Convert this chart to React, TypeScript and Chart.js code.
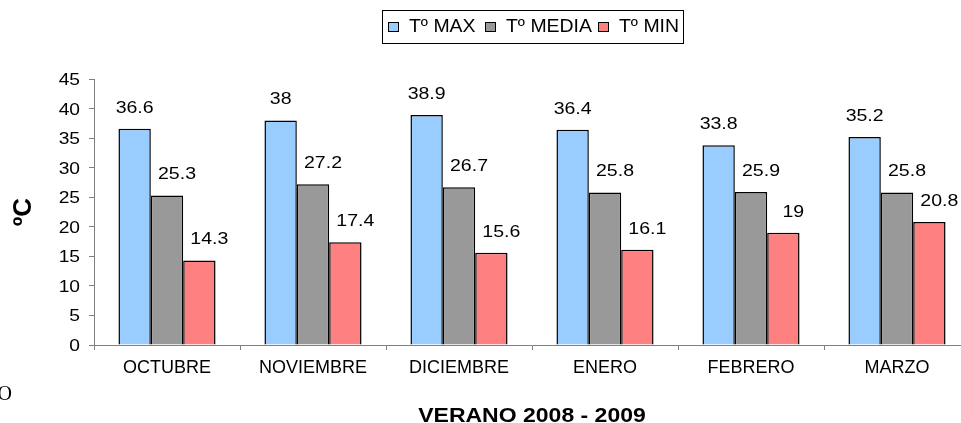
import React, { useEffect, useRef } from "react";
import { Chart, registerables } from "chart.js";

Chart.register(...registerables);

const categories = ["OCTUBRE", "NOVIEMBRE", "DICIEMBRE", "ENERO", "FEBRERO", "MARZO"];
const tMax = [36.6, 38, 38.9, 36.4, 33.8, 35.2];
const tMedia = [25.3, 27.2, 26.7, 25.8, 25.9, 25.8];
const tMin = [14.3, 17.4, 15.6, 16.1, 19, 20.8];
const seriesLabels = ["Tº MAX", "Tº MEDIA", "Tº MIN"];
const seriesColors = ["#99CCFF", "#999999", "#FF8080"];
const yMin = 0;
const yMax = 45;
const yStep = 5;
const xTitle = "VERANO 2008 - 2009";
const yTitle = "ºC";
const strayText = "O";

const SANS = '"Liberation Sans", Arial, sans-serif';

function stretchedText(ctx: any, text: string, x: number, y: number, sx: number, align: string, baseline: string) {
  ctx.save();
  ctx.translate(x, y);
  ctx.scale(sx, 1);
  ctx.textAlign = align;
  ctx.textBaseline = baseline;
  ctx.fillText(text, 0, 0);
  ctx.restore();
}

const legendPlugin = {
  id: "boxLegend",
  afterDraw(chart: any) {
    const ctx = chart.ctx;
    ctx.save();
    ctx.strokeStyle = "#000";
    ctx.lineWidth = 1;
    ctx.strokeRect(382.5, 10.5, 301, 33);
    const xs = [388, 485, 598];
    ctx.font = `18px ${SANS}`;
    chart.data.datasets.forEach((ds: any, i: number) => {
      ctx.fillStyle = ds.backgroundColor;
      ctx.fillRect(xs[i], 22, 11, 10);
      ctx.strokeRect(xs[i] + 0.5, 22.5, 10, 9);
      ctx.fillStyle = "#000";
      stretchedText(ctx, ds.label, xs[i] + 21, 32, 1.08, "left", "alphabetic");
    });
    ctx.restore();
  },
};

const labelOffsets = [0, 10, 10];

const textPlugin = {
  id: "barValues",
  afterDatasetsDraw(chart: any) {
    const ctx = chart.ctx;
    const area = chart.chartArea;
    ctx.save();
    ctx.fillStyle = "#000";
    // value labels
    ctx.font = `16px ${SANS}`;
    chart.data.datasets.forEach((ds: any, di: number) => {
      const meta = chart.getDatasetMeta(di);
      meta.data.forEach((bar: any, i: number) => {
        stretchedText(ctx, String(ds.data[i]), bar.x + labelOffsets[di], bar.y - 16, 1.22, "center", "alphabetic");
      });
    });
    // y tick labels
    const ys = chart.scales.y;
    ctx.font = `16px ${SANS}`;
    ys.ticks.forEach((t: any) => {
      stretchedText(ctx, String(t.value), 80, ys.getPixelForValue(t.value) + 6, 1.2, "right", "alphabetic");
    });
    // x-axis title
    ctx.font = `bold 20px ${SANS}`;
    stretchedText(ctx, xTitle, (area.left + area.right) / 2, 422, 1.15, "center", "alphabetic");
    // y-axis title
    ctx.save();
    ctx.translate(31, (area.top + area.bottom) / 2);
    ctx.rotate(-Math.PI / 2);
    ctx.font = `bold 26px ${SANS}`;
    ctx.textAlign = "center";
    ctx.textBaseline = "alphabetic";
    ctx.fillText(yTitle, 0, 0);
    ctx.restore();
    // stray glyph at lower-left
    ctx.font = `20px "Liberation Serif", "Times New Roman", serif`;
    ctx.textAlign = "left";
    ctx.textBaseline = "alphabetic";
    ctx.fillText(strayText, -2.5, 400);
    ctx.restore();
  },
};

export default function App() {
  const ref = useRef<HTMLCanvasElement>(null);
  useEffect(() => {
    if (!ref.current) return;
    const chart = new Chart(ref.current, {
      type: "bar",
      data: {
        labels: categories,
        datasets: [tMax, tMedia, tMin].map((d, i) => ({
          label: seriesLabels[i],
          data: d,
          backgroundColor: seriesColors[i],
          borderColor: "#000",
          borderWidth: 1.5,
          barPercentage: 1,
          categoryPercentage: 0.665,
        })),
      },
      options: {
        responsive: true,
        maintainAspectRatio: false,
        animation: false,
        layout: { padding: { left: 0, right: 5, top: 79, bottom: 0 } },
        plugins: { legend: { display: false }, tooltip: { enabled: false } },
        scales: {
          x: {
            grid: { drawOnChartArea: false, drawTicks: true, tickLength: 5, color: "#808080", offset: true },
            border: { color: "#808080", width: 1 },
            ticks: { color: "#000", font: { family: SANS, size: 18 }, padding: 7, maxRotation: 0, autoSkip: false },
            afterFit(scale: any) {
              scale.height = 78;
            },
          },
          y: {
            min: yMin,
            max: yMax,
            grid: { drawOnChartArea: false, drawTicks: true, tickLength: 5, color: "#808080" },
            border: { color: "#808080", width: 1 },
            ticks: { stepSize: yStep, display: false },
            afterFit(scale: any) {
              scale.width = 94;
            },
          },
        },
      },
      plugins: [legendPlugin, textPlugin],
    });
    return () => chart.destroy();
  }, []);
  return (
    <div style={{ position: "absolute", left: 0, top: 0, width: 961, height: 423, overflow: "hidden", background: "#fff" }}>
      <div style={{ position: "absolute", left: 0, top: 0, width: 975, height: 423 }}>
        <canvas ref={ref} />
      </div>
    </div>
  );
}
